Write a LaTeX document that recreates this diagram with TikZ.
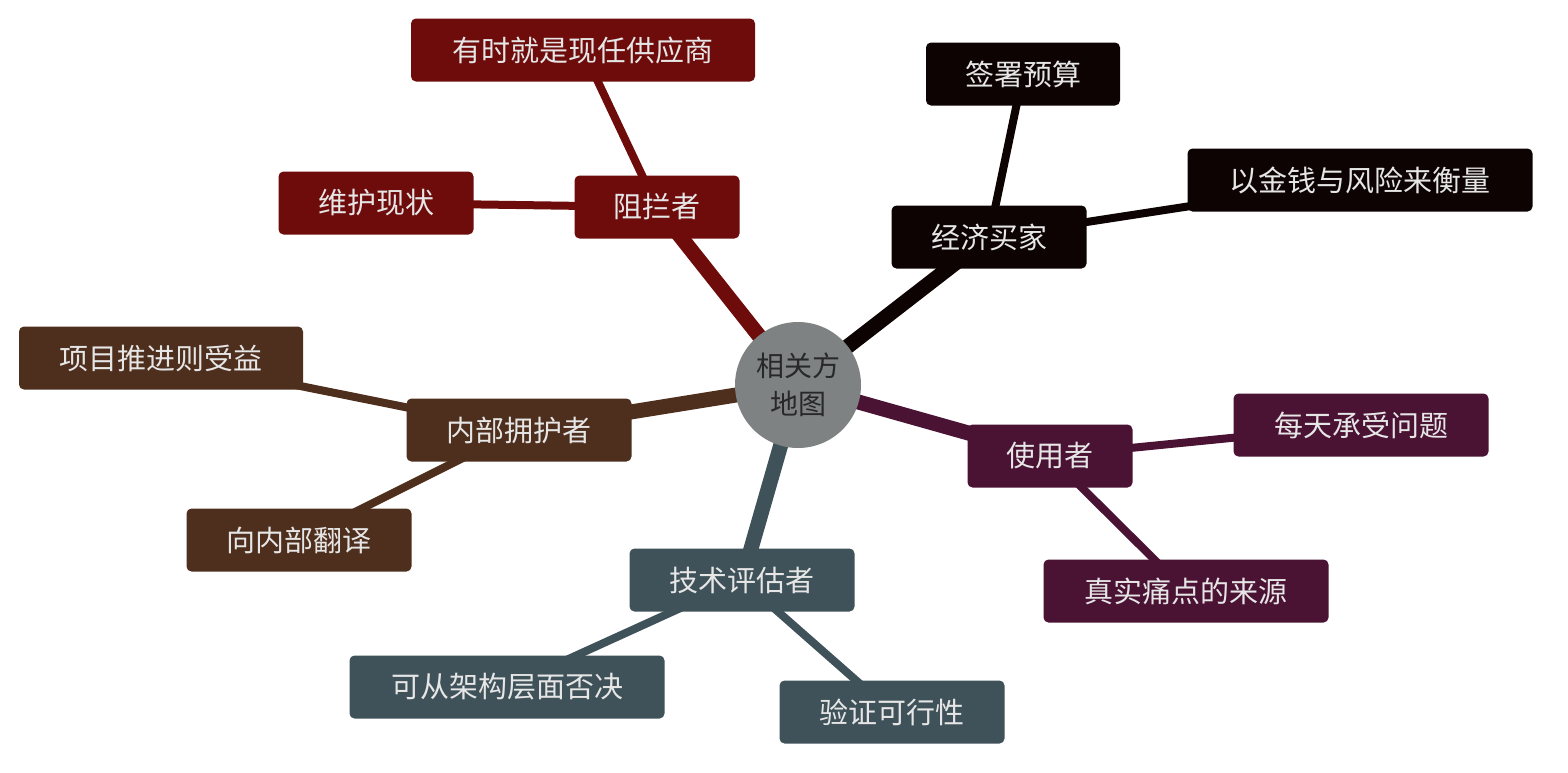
\documentclass[tikz,border=0pt]{standalone}
\usepackage{fontspec}
\setmainfont{Noto Sans CJK SC}
\definecolor{cred}{HTML}{6E0C0C}
\definecolor{cblk}{HTML}{0D0303}
\definecolor{cpur}{HTML}{4A1233}
\definecolor{cslt}{HTML}{3F5259}
\definecolor{cbrn}{HTML}{4E2E1C}
\definecolor{ctxt}{HTML}{E6E6E6}
\definecolor{cgray}{HTML}{7F8283}
\definecolor{cdark}{HTML}{282828}
\pgfdeclarelayer{bg}\pgfsetlayers{bg,main}
\begin{document}
\begin{tikzpicture}[x=1pt,y=-1pt,
 box/.style={rounded corners=5pt,minimum height=63pt,inner sep=0pt,text=ctxt,font=\fontsize{29pt}{32pt}\selectfont,fill=#1},
 main/.style={line width=15pt,draw=#1},
 sub/.style={line width=8pt,draw=#1}]
\useasboundingbox (0,0) rectangle (1568,772);
\node[circle,fill=cgray,minimum size=126pt,inner sep=0pt,align=center,font=\fontsize{28pt}{38pt}\selectfont,text=cdark] (c) at (798,385) {相关方\\地图};
\node[box=cred,minimum width=165pt] (a) at (657,207) {阻拦者};
\node[box=cred,minimum width=344pt] (a1) at (583,50) {有时就是现任供应商};
\node[box=cred,minimum width=195pt] (a2) at (376,203) {维护现状};
\node[box=cblk,minimum width=195pt] (b) at (989,237) {经济买家};
\node[box=cblk,minimum width=194pt] (b1) at (1023,74) {签署预算};
\node[box=cblk,minimum width=345pt] (b2) at (1360,180) {以金钱与风险来衡量};
\node[box=cpur,minimum width=165pt] (u) at (1050,456) {使用者};
\node[box=cpur,minimum width=255pt] (u1) at (1361,425) {每天承受问题};
\node[box=cpur,minimum width=285pt] (u2) at (1186,591) {真实痛点的来源};
\node[box=cslt,minimum width=225pt] (t) at (742,580) {技术评估者};
\node[box=cslt,minimum width=315pt] (t1) at (507,687) {可从架构层面否决};
\node[box=cslt,minimum width=225pt] (t2) at (892,712) {验证可行性};
\node[box=cbrn,minimum width=225pt] (i) at (519,430) {内部拥护者};
\node[box=cbrn,minimum width=284pt] (i1) at (161,358) {项目推进则受益};
\node[box=cbrn,minimum width=225pt] (i2) at (299,540) {向内部翻译};
\begin{pgfonlayer}{bg}
\draw[main=cred] (c.center) -- (a.center);
\draw[main=cblk] (c.center) -- (b.center);
\draw[main=cpur] (c.center) -- (u.center);
\draw[main=cslt] (c.center) -- (t.center);
\draw[main=cbrn] (c.center) -- (i.center);
\draw[sub=cred] (a.center) -- (a1.center);
\draw[sub=cred] (a.center) -- (a2.center);
\draw[sub=cblk] (b.center) -- (b1.center);
\draw[sub=cblk] (b.center) -- (b2.center);
\draw[sub=cpur] (u.center) -- (u1.center);
\draw[sub=cpur] (u.center) -- (u2.center);
\draw[sub=cslt] (t.center) -- (t1.center);
\draw[sub=cslt] (t.center) -- (t2.center);
\draw[sub=cbrn] (i.center) -- (i1.center);
\draw[sub=cbrn] (i.center) -- (i2.center);
\end{pgfonlayer}
\end{tikzpicture}
\end{document}
